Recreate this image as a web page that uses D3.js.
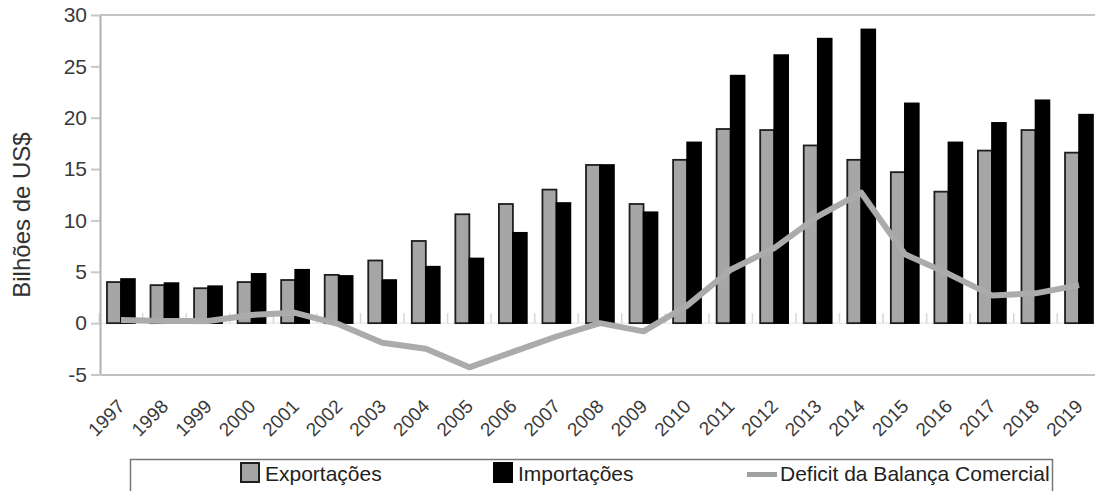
<!DOCTYPE html>
<html>
<head>
<meta charset="utf-8">
<script src="https://cdn.jsdelivr.net/npm/d3@7/dist/d3.min.js"></script>
<style>
  html, body { margin: 0; padding: 0; background: #fff; }
  svg { display: block; font-family: "Liberation Sans", Arial, sans-serif; }
</style>
</head>
<body>
<svg id="chart" width="1095" height="491"></svg>
<script>
// Agricultural trade, billions of US$
const years = ["1997","1998","1999","2000","2001","2002","2003","2004","2005","2006","2007","2008",
               "2009","2010","2011","2012","2013","2014","2015","2016","2017","2018","2019"];
const exportacoes = [4.0, 3.7, 3.4, 4.0, 4.2, 4.7, 6.1, 8.0, 10.6, 11.6, 13.0, 15.4,
                     11.6, 15.9, 18.9, 18.8, 17.3, 15.9, 14.7, 12.8, 16.8, 18.8, 16.6];
const importacoes = [4.3, 3.9, 3.6, 4.8, 5.2, 4.6, 4.2, 5.5, 6.3, 8.8, 11.7, 15.4,
                     10.8, 17.6, 24.1, 26.1, 27.7, 28.6, 21.4, 17.6, 19.5, 21.7, 20.3];
const deficit = [0.3, 0.2, 0.2, 0.8, 1.0, -0.1, -1.9, -2.5, -4.3, -2.8, -1.3, 0.0,
                 -0.8, 1.7, 5.2, 7.3, 10.4, 12.7, 6.7, 4.8, 2.7, 2.9, 3.7];
const yTicks = [-5, 0, 5, 10, 15, 20, 25, 30];
const seriesNames = ["Exportações", "Importações", "Deficit da Balança Comercial"];

const svg = d3.select("#chart");

const x = d3.scaleBand().domain(years).range([100, 1100]).paddingInner(0.357).paddingOuter(0.16);
const xs = d3.scaleBand().domain(["exp", "imp"]).range([0, x.bandwidth()]);
const y = d3.scaleLinear().domain([-5, 30]).range([374.5, 15]);

// frame: top border
svg.append("line").attr("x1", 100).attr("x2", 1095).attr("y1", 15).attr("y2", 15)
  .attr("stroke", "#c4c4c4").attr("stroke-width", 2);

// zero line with small category separators
svg.append("line").attr("x1", 100).attr("x2", 1095).attr("y1", y(0)).attr("y2", y(0))
  .attr("stroke", "#e4e4e4").attr("stroke-width", 1);
const sepX = years.map(d => x(d) - x.step() * x.paddingInner() / 2);
svg.append("g").selectAll("line").data(sepX).join("line")
  .attr("x1", d => d).attr("x2", d => d)
  .attr("y1", y(0) - 10).attr("y2", y(0))
  .attr("stroke", "#d8d8d8").attr("stroke-width", 1.5);

// y axis
const yAxis = svg.append("g").attr("transform", "translate(100,0)")
  .call(d3.axisLeft(y).tickValues(yTicks).tickFormat(d => String(d))
    .tickSize(9).tickSizeOuter(0).tickPadding(4));
yAxis.select(".domain").attr("stroke", "#b0b0b0").attr("stroke-width", 2);
yAxis.selectAll(".tick line").attr("stroke", "#c8c8c8").attr("stroke-width", 2);
yAxis.selectAll(".tick text").attr("fill", "#3a3a3a").style("font-size", "21px")
  .style("font-family", "'Liberation Sans', Arial, sans-serif");

svg.append("text")
  .attr("transform", "translate(30,215) rotate(-90)")
  .attr("text-anchor", "middle")
  .attr("fill", "#333").style("font-size", "24px")
  .text("Bilhões de US$");

// bars
const groups = svg.append("g").selectAll("g").data(years).join("g")
  .attr("transform", d => `translate(${x(d)},0)`);
groups.append("rect")
  .attr("x", xs("exp"))
  .attr("width", xs.bandwidth())
  .attr("y", (d, i) => y(exportacoes[i]))
  .attr("height", (d, i) => y(0) - y(exportacoes[i]))
  .attr("fill", "#a6a6a6").attr("stroke", "#1e1e1e").attr("stroke-width", 1.8);
groups.append("rect")
  .attr("x", xs("imp"))
  .attr("width", xs.bandwidth())
  .attr("y", (d, i) => y(importacoes[i]))
  .attr("height", (d, i) => y(0) - y(importacoes[i]))
  .attr("fill", "#000").attr("stroke", "#000").attr("stroke-width", 1.6);

// trade balance line
const line = d3.line()
  .x((d, i) => x(years[i]) + x.bandwidth() / 2)
  .y(d => y(d));
svg.append("path").datum(deficit)
  .attr("d", line)
  .attr("fill", "none").attr("stroke", "#ababab").attr("stroke-width", 6)
  .attr("stroke-linejoin", "round");

// x axis
const xAxis = svg.append("g").attr("transform", `translate(0,${y(-5)})`)
  .call(d3.axisBottom(x).tickSize(0).tickSizeOuter(0));
xAxis.select(".domain").attr("stroke", "#c0c0c0").attr("stroke-width", 2);
xAxis.selectAll(".tick text")
  .attr("x", 0).attr("y", 0).attr("dy", 0)
  .attr("transform", "translate(5,33) rotate(-45)")
  .style("text-anchor", "end")
  .attr("fill", "#3a3a3a").style("font-size", "19px")
  .style("font-family", "'Liberation Sans', Arial, sans-serif");

// legend
const lg = svg.append("g");
lg.append("rect").attr("x", 130.5).attr("y", 459.5).attr("width", 922).attr("height", 60)
  .attr("fill", "#fff").attr("stroke", "#777").attr("stroke-width", 1.5);
lg.append("rect").attr("x", 241).attr("y", 463).attr("width", 18).attr("height", 19)
  .attr("fill", "#a6a6a6").attr("stroke", "#1e1e1e").attr("stroke-width", 2);
lg.append("text").attr("x", 265).attr("y", 481).attr("fill", "#222").style("font-size", "21px")
  .text(seriesNames[0]);
lg.append("rect").attr("x", 494).attr("y", 463).attr("width", 18).attr("height", 19)
  .attr("fill", "#000").attr("stroke", "#000").attr("stroke-width", 2);
lg.append("text").attr("x", 518).attr("y", 481).attr("fill", "#222").style("font-size", "21px")
  .text(seriesNames[1]);
lg.append("line").attr("x1", 747).attr("x2", 777).attr("y1", 474.5).attr("y2", 474.5)
  .attr("stroke", "#a0a0a0").attr("stroke-width", 5);
lg.append("text").attr("x", 780).attr("y", 481).attr("fill", "#222").style("font-size", "21px")
  .text(seriesNames[2]);
</script>
</body>
</html>
